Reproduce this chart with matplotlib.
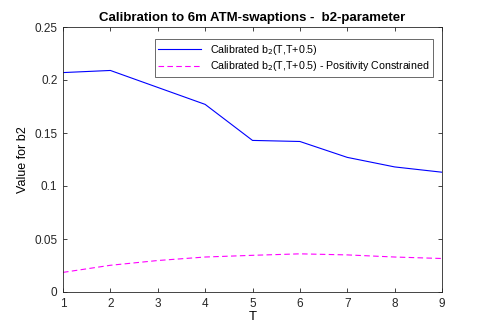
import numpy as np
import matplotlib.pyplot as plt

plt.rcParams['font.family'] = ['Liberation Sans', 'DejaVu Sans']

# Maturities and calibrated b2 parameter values
T = [1, 2, 3, 4, 5, 6, 7, 8, 9]
b2_calibrated = [0.207, 0.209, 0.193, 0.177, 0.143, 0.142, 0.127, 0.118, 0.113]
b2_positive = [0.0185, 0.0252, 0.0297, 0.0330, 0.0346, 0.0360, 0.0350, 0.0330, 0.0316]

fig = plt.figure(figsize=(4.88, 3.27), dpi=100)
ax = fig.add_axes([63/488, 1 - 292/327, 379/488, 265/327])

ax.plot(T, b2_calibrated, "b-", linewidth=0.8,
        label="Calibrated b$_2$(T,T+0.5)")
ax.plot(T, b2_positive, "--", color="#ff00ff", linewidth=0.8, dashes=(5, 3),
        label="Calibrated b$_2$(T,T+0.5) - Positivity Constrained")

ax.set_xlim(1, 9)
ax.set_ylim(0, 0.25)
ax.set_xticks(T)
ax.set_yticks([0, 0.05, 0.1, 0.15, 0.2, 0.25])
ax.set_yticklabels(["0", "0.05", "0.1", "0.15", "0.2", "0.25"])
ax.tick_params(direction="in", top=True, right=True, labelsize=8.5,
               length=3, width=0.6, colors="#262626", pad=4)
for s in ax.spines.values():
    s.set_linewidth(0.6)
    s.set_color("#262626")

ax.set_xlabel("T", fontsize=9.5, labelpad=1)
ax.set_ylabel("Value for b2", fontsize=9, labelpad=4)
ax.set_title("Calibration to 6m ATM-swaptions -  b2-parameter",
             fontsize=9.5, weight="bold", pad=4)

leg = ax.legend(loc="upper right", bbox_to_anchor=(0.99, 0.975), fontsize=7.7,
                frameon=True, fancybox=False, edgecolor="#262626",
                handlelength=4, borderpad=0.35, labelspacing=0.25)
leg.get_frame().set_linewidth(0.6)

fig.savefig("out.png", dpi=100)
